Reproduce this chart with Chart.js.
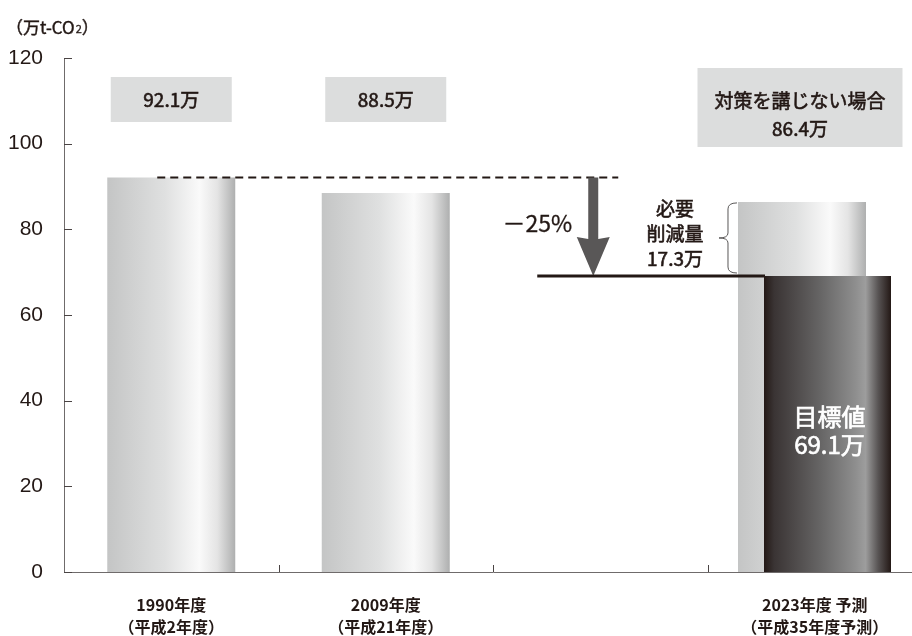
<!DOCTYPE html>
<html><head><meta charset="utf-8">
<script src="https://cdn.jsdelivr.net/npm/chart.js@4.4.1/dist/chart.umd.min.js"></script>
<style>html,body{margin:0;padding:0;background:#fff;overflow:hidden;}#wrap{width:912px;height:636px;overflow:hidden;}</style>
</head><body><div id="wrap"><canvas id="c" width="922" height="636"></canvas></div>
<script>
// ---- data ----
const categories = [['1990年度', '（平成2年度）'], ['2009年度', '（平成21年度）'], '', ['2023年度 予測', '（平成35年度予測）']];
const emissions = [92.1, 88.5, null, 86.4];      // 実績 / 対策を講じない場合
const targetValues = [null, null, null, 69.1];   // 目標値
const valueLabels = ['92.1万', '88.5万', null, '86.4万'];
const scenarioLabel = '対策を講じない場合';
const targetLabel = ['目標値', '69.1万'];
const reductionLabel = ['必要', '削減量', '17.3万'];
const reductionPct = '－25%';
const unitLabel = ['（万t-CO', '2', '）'];
const yMin = 0, yMax = 120, yStep = 20;

// ---- styles ----
const JP = '"Noto Sans CJK JP", "Noto Sans", sans-serif';
const LAT = '"Liberation Sans", Arial, sans-serif';
const INK = '#231815';

function lightGrad(ctx, x0, x1) {
  const g = ctx.createLinearGradient(x0, 0, x1, 0);
  g.addColorStop(0, '#c4c5c5'); g.addColorStop(0.45, '#dfe0e0');
  g.addColorStop(0.72, '#fafafa'); g.addColorStop(0.86, '#e4e4e4');
  g.addColorStop(1, '#aeafaf');
  return g;
}
function darkGrad(ctx, x0, x1) {
  const g = ctx.createLinearGradient(x0, 0, x1, 0);
  g.addColorStop(0, '#231815'); g.addColorStop(0.08, '#3a3434');
  g.addColorStop(0.45, '#676666'); g.addColorStop(0.72, '#8e8e8e');
  g.addColorStop(0.8, '#9d9d9d'); g.addColorStop(0.9, '#575353');
  g.addColorStop(1, '#231815');
  return g;
}
// medium-weight text: regular glyphs with a hairline outline
function medText(ctx, t, x, y, color, w) {
  ctx.fillStyle = color; ctx.strokeStyle = color; ctx.lineWidth = w || 0.6;
  ctx.fillText(t, x, y); ctx.strokeText(t, x, y);
}

const decor = {
  id: 'decor',
  beforeDatasetsDraw(chart) {
    chart.data.datasets.forEach((ds, di) => {
      const meta = chart.getDatasetMeta(di);
      meta.data.forEach((el, i) => {
        if (ds.data[i] == null || !isFinite(el.x)) return;
        el.options.backgroundColor = (di === 0 ? lightGrad : darkGrad)(chart.ctx, el.x - el.width / 2, el.x + el.width / 2);
      });
    });
  },
  beforeDatasetDraw(chart, args) {
    if (args.index === 1) return false; // drawn on top afterwards
  },
  afterDatasetsDraw(chart) {
    const ctx = chart.ctx, xs = chart.scales.x, ys = chart.scales.y, area = chart.chartArea;
    chart.getDatasetMeta(1).controller.draw();
    const cx = i => xs.getPixelForValue(i);
    const py = v => ys.getPixelForValue(v);
    const light = chart.getDatasetMeta(0).data;
    const dark = chart.getDatasetMeta(1).data[3];
    const lightL = light[3].x - light[3].width / 2;
    const darkL = dark.x - dark.width / 2;

    ctx.save();
    // inward tick marks
    ctx.strokeStyle = '#4a4444'; ctx.lineWidth = 1;
    ys.ticks.forEach(t => {
      const p = Math.round(py(t.value)) + 0.5;
      ctx.beginPath(); ctx.moveTo(area.left, p); ctx.lineTo(area.left + 8, p); ctx.stroke();
    });
    for (let i = 0; i < categories.length - 1; i++) {
      const b = Math.round((cx(i) + cx(i + 1)) / 2) + 0.5;
      ctx.beginPath(); ctx.moveTo(b, area.bottom); ctx.lineTo(b, area.bottom - 7); ctx.stroke();
    }

    // value boxes
    ctx.textAlign = 'center'; ctx.textBaseline = 'middle';
    for (let i = 0; i < 2; i++) {
      const bx = light[i].x, top = area.top + 19;
      ctx.fillStyle = '#dcdddd'; ctx.fillRect(bx - 60.5, top, 121, 45);
      ctx.font = '400 19px ' + JP;
      medText(ctx, valueLabels[i], bx, top + 23, INK);
    }
    {
      const bx = light[3].x - 2, top = area.top + 10;
      ctx.fillStyle = '#dcdddd'; ctx.fillRect(bx - 102.5, top, 205, 79);
      ctx.font = '400 19px ' + JP;
      medText(ctx, scenarioLabel, bx, top + 33, INK);
      medText(ctx, valueLabels[3], bx, top + 61, INK);
    }

    // dashed reference line at 1990 level
    const arrowX = cx(2) - 7;
    const yRef = py(emissions[0]), yTgt = py(targetValues[3]);
    ctx.strokeStyle = INK; ctx.lineWidth = 2; ctx.setLineDash([8, 5]);
    ctx.beginPath(); ctx.moveTo(cx(0) - 14, yRef); ctx.lineTo(arrowX + 25, yRef); ctx.stroke();
    ctx.setLineDash([]);

    // arrow
    ctx.fillStyle = '#595757';
    const headLen = 37, shaft = 5, head = 16.5;
    ctx.beginPath();
    ctx.moveTo(arrowX - shaft, yRef); ctx.lineTo(arrowX + shaft, yRef);
    ctx.lineTo(arrowX + shaft, yTgt - headLen); ctx.lineTo(arrowX + head, yTgt - headLen - 2);
    ctx.lineTo(arrowX, yTgt); ctx.lineTo(arrowX - head, yTgt - headLen - 2);
    ctx.lineTo(arrowX - shaft, yTgt - headLen); ctx.closePath(); ctx.fill();

    // target line
    ctx.strokeStyle = INK; ctx.lineWidth = 3;
    ctx.beginPath(); ctx.moveTo(cx(2) - 63, yTgt); ctx.lineTo(darkL + 1, yTgt); ctx.stroke();

    // -25%
    ctx.font = '400 23px ' + JP; ctx.textAlign = 'right';
    medText(ctx, reductionPct, arrowX - 21, (yRef + yTgt) / 2 - 3, INK, 0.3);

    // bracket
    const yTop = py(emissions[3]);
    const xr = lightL - 1, xv = lightL - 10, xt = lightL - 19;
    const bt = yTop + 1, bb = yTgt - 3, bm = (bt + bb) / 2;
    ctx.strokeStyle = '#595757'; ctx.lineWidth = 1;
    ctx.beginPath();
    ctx.moveTo(xr, bt); ctx.quadraticCurveTo(xv, bt, xv, bt + 6);
    ctx.lineTo(xv, bm - 5); ctx.quadraticCurveTo(xv, bm, xt, bm);
    ctx.quadraticCurveTo(xv, bm, xv, bm + 5); ctx.lineTo(xv, bb - 6);
    ctx.quadraticCurveTo(xv, bb, xr, bb); ctx.stroke();

    // reduction text
    ctx.textAlign = 'center'; ctx.font = '400 19px ' + JP;
    const mid = (yTop + yTgt) / 2;
    reductionLabel.forEach((t, k) => medText(ctx, t, lightL - 63, mid - 30 + k * 25, INK));

    // target text inside dark bar
    ctx.font = '400 24px ' + JP;
    medText(ctx, targetLabel[0], dark.x + 2, yTgt + 141, '#ffffff', 0.7);
    medText(ctx, targetLabel[1], dark.x + 2, yTgt + 169, '#ffffff', 0.7);

    // unit label
    ctx.textAlign = 'left';
    ctx.font = '400 17px ' + JP;
    let ux = 6;
    medText(ctx, unitLabel[0], ux, 28, INK, 0.4); ux += ctx.measureText(unitLabel[0]).width + 1;
    ctx.font = '400 11px ' + JP; medText(ctx, unitLabel[1], ux, 29, INK, 0.3); ux += ctx.measureText(unitLabel[1]).width;
    ctx.font = '400 17px ' + JP; medText(ctx, unitLabel[2], ux, 28, INK, 0.4);
    ctx.restore();
  }
};

new Chart(document.getElementById('c'), {
  type: 'bar',
  data: {
    labels: categories,
    datasets: [
      { label: '排出量', data: emissions, backgroundColor: () => '#d8d8d8', maxBarThickness: 128 },
      { label: '目標値', data: targetValues, backgroundColor: () => '#555555', maxBarThickness: 127 }
    ]
  },
  options: {
    responsive: false,
    animation: false,
    events: [],
    layout: { padding: { top: 58, left: 0, right: 0, bottom: 0 } },
    datasets: { bar: { skipNull: true, categoryPercentage: 0.2378, barPercentage: 6, borderWidth: 0 } },
    plugins: { legend: { display: false }, tooltip: { enabled: false }, title: { display: false } },
    scales: {
      x: {
        grid: { display: false },
        border: { display: true, color: '#6f6b6b', width: 1 },
        ticks: { color: INK, font: { family: JP, size: 16, weight: 'bold', lineHeight: 1.38 }, padding: 14, maxRotation: 0, autoSkip: false },
        afterFit: s => { s.height = 64; }
      },
      y: {
        min: yMin, max: yMax,
        grid: { display: false },
        border: { display: true, color: '#6f6b6b', width: 1 },
        ticks: { stepSize: yStep, color: INK, font: { family: LAT, size: 21 }, padding: 13 },
        afterFit: s => { s.width = 64; }
      }
    }
  },
  plugins: [decor]
});
</script></body></html>
